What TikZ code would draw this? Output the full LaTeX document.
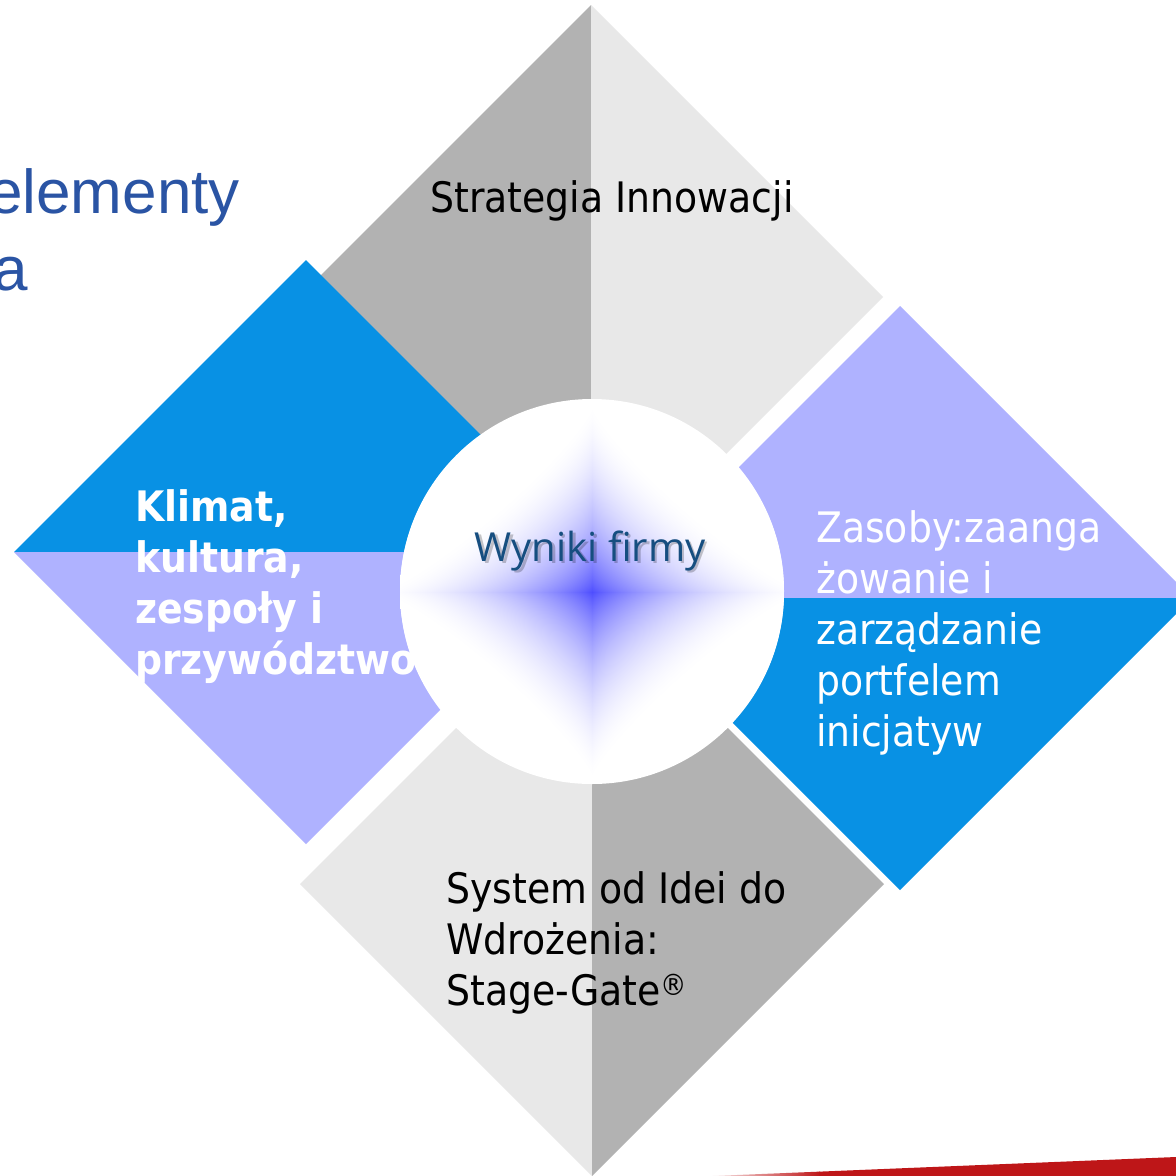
\documentclass[tikz,border=0pt]{standalone}
\usepackage{fontspec}
\setmainfont{DejaVu Sans}
\newfontfamily\tahfont[FakeStretch=0.9]{DejaVu Sans}
\newfontfamily\titlefont{Liberation Sans}
\newfontfamily\hubfont{Open Sans}

\definecolor{greydark}{RGB}{178,178,178}
\definecolor{greylight}{RGB}{232,232,232}
\definecolor{azure}{RGB}{8,145,228}
\definecolor{lilac}{RGB}{175,178,255}
\definecolor{titleblue}{RGB}{42,84,164}
\definecolor{hubtext}{RGB}{22,78,128}
\definecolor{barred}{RGB}{190,22,24}

% four-pointed star glow for the central disc (white to blue)
\pgfdeclarefunctionalshading{starglow}{\pgfpoint{-50bp}{-50bp}}{\pgfpoint{50bp}{50bp}}{}{
  abs 24.5 div 0.85 exp exch abs 28 div 0.85 exp add 1 exch sub dup abs add 2 div 1.6 exp 0.7 mul 1 exch sub dup 1
}

\tikzset{
  half/.style={draw=none},
  quadlabel/.style={inner sep=0pt, anchor=base west, align=left,
    font=\tahfont\fontsize{42}{51}\selectfont},
  boldlabel/.style={quadlabel, text=white,
    font=\tahfont\bfseries\fontsize{42}{51}\selectfont},
  titletext/.style={inner sep=0pt, anchor=base east, text=titleblue,
    font=\titlefont\fontsize{62}{70}\selectfont},
  hublabel/.style={inner sep=0pt, anchor=base,
    font=\hubfont\fontsize{40}{48}\selectfont},
}

\begin{document}
\begin{tikzpicture}[x=1pt,y=-1pt]
\useasboundingbox (0,0) rectangle (1176,1176);
\clip (0,0) rectangle (1176,1176);
\fill[white] (0,0) rectangle (1176,1176);

% centres of the four diamonds
\coordinate (ctop) at (591,297);
\coordinate (cleft) at (306,552);
\coordinate (cright) at (900,598);
\coordinate (cbot) at (592,884);

% red bar along the lower edge
\shade[left color=white, right color=barred] (700,1176.5) -- (820,1171.6) -- (820,1176.5) -- cycle;
\fill[barred] (819,1171.64) -- (1176,1157) -- (1176,1176.5) -- (819,1176.5) -- cycle;

% top diamond: Strategia Innowacji
\fill[greydark, half] (591,5) -- (299,297) -- (591,589) -- cycle;
\fill[greylight, half] (591,5) -- (883,297) -- (591,589) -- cycle;

% left diamond: Klimat
\fill[azure, half] (14,552) -- (306,260) -- (598,552) -- cycle;
\fill[lilac, half] (14,552) -- (306,844) -- (598,552) -- cycle;

% right diamond: Zasoby
\fill[lilac, half] (608,598) -- (900,306) -- (1192,598) -- cycle;
\fill[azure, half] (608,598) -- (900,890) -- (1192,598) -- cycle;

% bottom diamond: System
\fill[greylight, half] (592,592) -- (300,884) -- (592,1176) -- cycle;
\fill[greydark, half] (592,592) -- (884,884) -- (592,1176) -- cycle;

% title fragments at the upper left
\node[titletext] (title1) at (240,213) {elementy};
\node[titletext] (title2) at (28,290) {a};

% quadrant labels (multi-line labels are placed by their last baseline)
\node[quadlabel, text=black] (strat) at (430,212) {Strategia Innowacji};
\node[boldlabel] (klim) at (135,674) {Klimat,\\kultura,\\zespoły i\\przywództwo};
\node[quadlabel, text=white] (zas) at (816,746) {Zasoby:zaanga\\żowanie i\\zarządzanie\\portfelem\\inicjatyw};
\node[quadlabel, text=black] (sys) at (446,1005) {System od Idei do\\Wdrożenia:\\Stage-Gate\textsuperscript{®}};

% central hub
\node[circle, fill=white, draw=none, minimum size=384pt, inner sep=0pt] (hub) at (592,591) {};
\shade[shading=starglow] (592,592) circle[radius=192];

\node[hublabel, text=black, opacity=0.22] (hubshadow) at (592.5,563.5) {Wyniki firmy};
\node[hublabel, text=hubtext] (hubtitle) at (590,561) {Wyniki firmy};
\end{tikzpicture}
\end{document}
